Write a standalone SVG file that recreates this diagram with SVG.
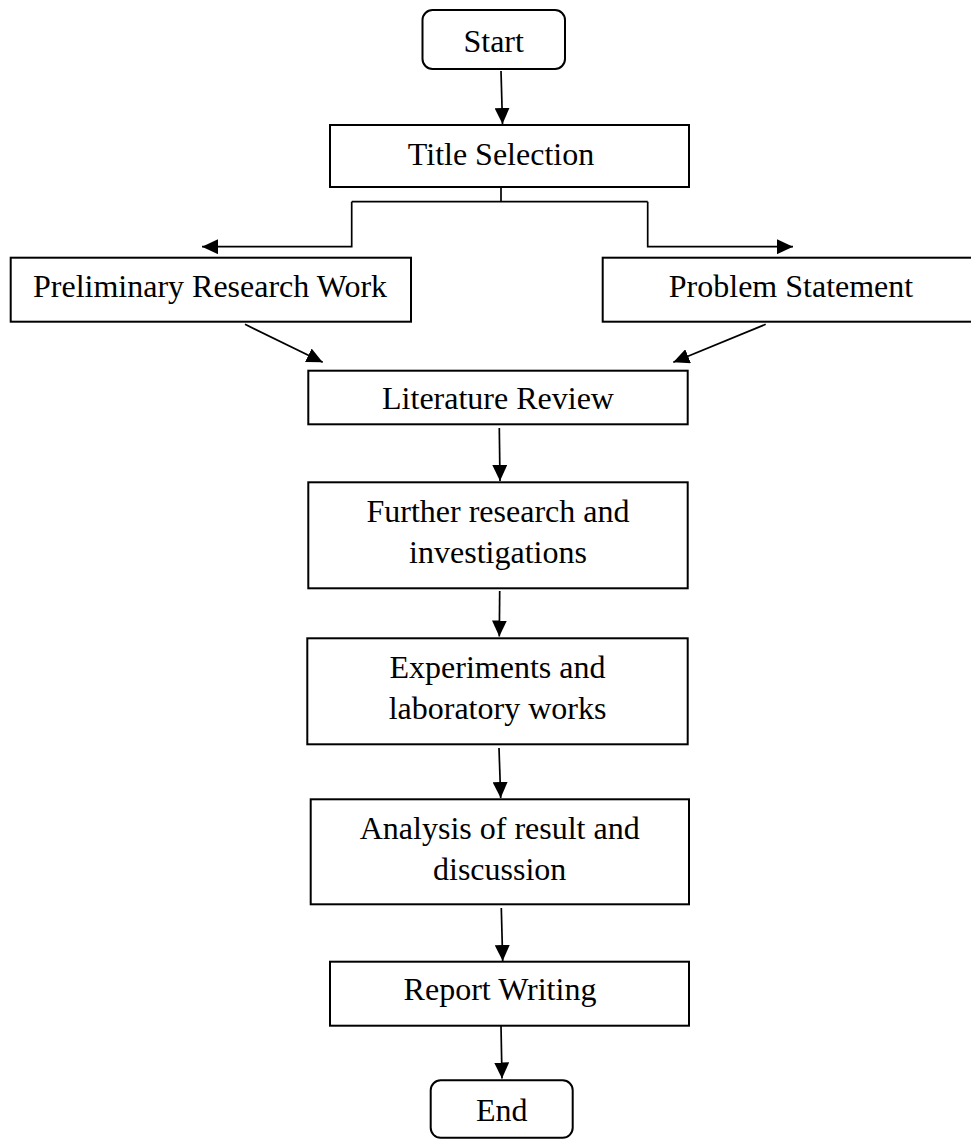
<svg xmlns="http://www.w3.org/2000/svg" width="971" height="1139" viewBox="0 0 971 1139">
<style>
.box{fill:#fff;stroke:#000;stroke-width:2}
.lbl{font-family:"Liberation Serif","Times New Roman",serif;font-size:32px;fill:#000;text-anchor:middle}
.con{fill:none;stroke:#000;stroke-width:1.7}
</style>
<defs>
<marker id="ah" markerUnits="userSpaceOnUse" markerWidth="16" markerHeight="15" refX="16" refY="7.5" orient="auto">
<path d="M0,0 L16,7.5 L0,15 z" fill="#000"/>
</marker>
</defs>
<rect width="971" height="1139" fill="#fff"/>
<g id="connectors">
<line class="con" x1="501" y1="71" x2="502.5" y2="124" marker-end="url(#ah)"/>
<polyline class="con" points="501,187 501,201.7"/>
<polyline class="con" points="351.7,201.7 647.7,201.7"/>
<polyline class="con" points="351.7,201.7 351.7,246.7 202,246.7" marker-end="url(#ah)"/>
<polyline class="con" points="647.7,201.7 647.7,246.7 793,246.7" marker-end="url(#ah)"/>
<line class="con" x1="245" y1="324.3" x2="322.7" y2="362.3" marker-end="url(#ah)"/>
<line class="con" x1="765.7" y1="324.3" x2="673.3" y2="362.3" marker-end="url(#ah)"/>
<line class="con" x1="499.3" y1="428" x2="500" y2="481" marker-end="url(#ah)"/>
<line class="con" x1="499.7" y1="591" x2="499.3" y2="636.5" marker-end="url(#ah)"/>
<line class="con" x1="499" y1="748" x2="500.7" y2="798" marker-end="url(#ah)"/>
<line class="con" x1="501.3" y1="908" x2="502.7" y2="961" marker-end="url(#ah)"/>
<line class="con" x1="501" y1="1026" x2="502" y2="1078.5" marker-end="url(#ah)"/>
</g>
<g id="start">
<rect class="box" x="422.5" y="10" width="142.5" height="59" rx="10" ry="10"/>
<text class="lbl" x="493.7" y="52">Start</text>
</g>
<g id="title-selection">
<rect class="box" x="330" y="125" width="359" height="62"/>
<text class="lbl" x="501" y="165">Title Selection</text>
</g>
<g id="preliminary">
<rect class="box" x="10.7" y="257.7" width="400.3" height="64"/>
<text class="lbl" x="210" y="297">Preliminary Research Work</text>
</g>
<g id="problem">
<rect class="box" x="602.7" y="257.7" width="378" height="64"/>
<text class="lbl" x="791" y="297">Problem Statement</text>
</g>
<g id="literature">
<rect class="box" x="308.3" y="370.7" width="379.4" height="53.6"/>
<text class="lbl" x="498" y="409">Literature Review</text>
</g>
<g id="further">
<rect class="box" x="308.3" y="482.3" width="379.4" height="106"/>
<text class="lbl" x="498" y="522">Further research and</text>
<text class="lbl" x="498" y="562.5">investigations</text>
</g>
<g id="experiments">
<rect class="box" x="307.3" y="638.3" width="380.4" height="106"/>
<text class="lbl" x="497.5" y="678">Experiments and</text>
<text class="lbl" x="497.5" y="718.5">laboratory works</text>
</g>
<g id="analysis">
<rect class="box" x="310.7" y="799.3" width="378.3" height="105"/>
<text class="lbl" x="499.7" y="839">Analysis of result and</text>
<text class="lbl" x="499.7" y="879.5">discussion</text>
</g>
<g id="report">
<rect class="box" x="330" y="961.7" width="359" height="64"/>
<text class="lbl" x="500" y="1000">Report Writing</text>
</g>
<g id="end">
<rect class="box" x="430.7" y="1080.3" width="142" height="57.5" rx="10" ry="10"/>
<text class="lbl" x="501.7" y="1120.7">End</text>
</g>
</svg>
